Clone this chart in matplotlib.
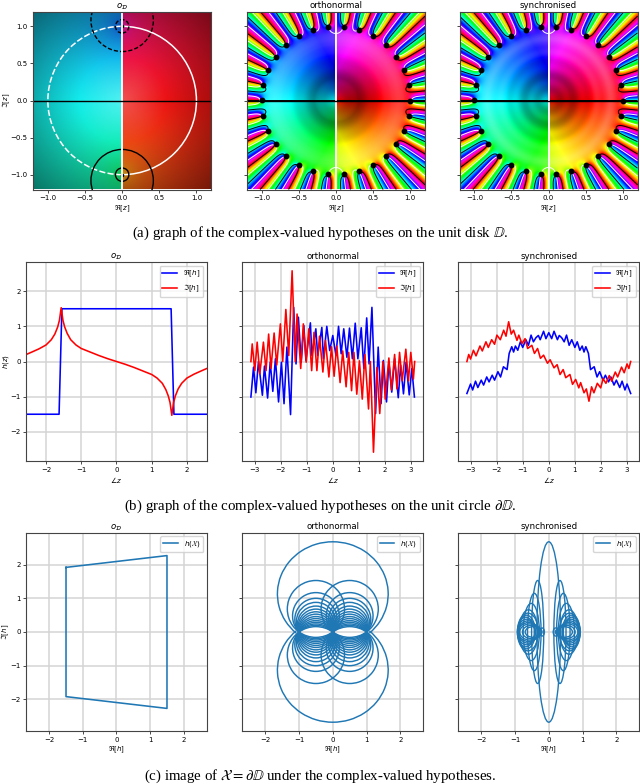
import numpy as np
import matplotlib
matplotlib.use("Agg")
import matplotlib.pyplot as plt
from matplotlib.colors import hsv_to_rgb
from matplotlib.patches import Arc, Ellipse, Circle

# ---------- values ----------
titles = [r"$o_{\mathcal{D}}$", "orthonormal", "synchronised"]
captions = [
    r"(a) graph of the complex-valued hypotheses on the unit disk $\mathbb{D}$.",
    r"(b) graph of the complex-valued hypotheses on the unit circle $\partial\mathbb{D}$.",
    r"(c) image of $\mathcal{X}=\partial\mathbb{D}$ under the complex-valued hypotheses.",
]
# black dots of the two right-hand disk panels (degrees, radius about 1)
dot_angles = [0, 12, 24, 36, 48, 60, 72, 84, 96, 108, 120, 132, 144, 156, 168, 180,
              192, 204, 216, 228, 240, 252, 264, 276, 288, 300, 312, 324, 336, 348]

# (b) o_D
od_re_x = [-2.56, -1.63, -1.55, 1.55, 1.63, 2.56]
od_re_y = [-1.5, -1.5, 1.5, 1.5, -1.5, -1.5]
od_im_x = [-2.56, -2.4, -2.2, -2.0, -1.85, -1.75, -1.67, -1.62, -1.57, -1.52, -1.47, -1.4, -1.3, -1.15, -1.0,
           -0.75, -0.5, -0.25, 0, 0.25, 0.5, 0.75, 1.0, 1.15, 1.3, 1.4, 1.47, 1.52, 1.57, 1.62, 1.67, 1.75,
           1.85, 2.0, 2.2, 2.4, 2.56]
od_im_y = [0.2, 0.27, 0.36, 0.47, 0.62, 0.78, 0.98, 1.17, 1.53, 1.17, 0.98, 0.8, 0.62, 0.47, 0.37,
           0.27, 0.17, 0.08, 0, -0.08, -0.17, -0.27, -0.37, -0.47, -0.62, -0.8, -0.98, -1.17, -1.53, -1.17,
           -0.98, -0.78, -0.62, -0.47, -0.36, -0.27, -0.2]

# (b) orthonormal
on_re_x = [-3.14, -3.04, -2.95, -2.85, -2.70, -2.62, -2.50, -2.40, -2.30, -2.20, -2.08, -1.97, -1.87, -1.76, -1.62,
           -1.50, -1.41, -1.32, -1.21, -1.11, -1.03, -0.86, -0.80, -0.65, -0.58, -0.42, -0.36, -0.23, -0.12, 0.0,
           0.12, 0.22, 0.32, 0.42, 0.54, 0.64, 0.75, 0.86, 0.96, 1.09, 1.19, 1.30, 1.39, 1.50, 1.64, 1.74, 1.85,
           1.94, 2.06, 2.15, 2.26, 2.37, 2.51, 2.60, 2.71, 2.81, 2.93, 3.03, 3.13]
on_re_y = [-1.01, -0.16, -0.89, 0.0, -0.96, -0.13, -1.04, -0.02, -0.85, 0.08, -1.15, -0.02, -1.2, 0.41, -1.51,
           1.54, -0.07, 1.26, -0.02, 1.02, 0.03, 1.1, 0.17, 0.93, 0.17, 0.97, 0.08, 1.0, 0.31, 0.74,
           0.17, 1.0, 0.22, 0.93, 0.12, 0.95, 0.08, 1.09, 0.08, 0.96, -0.2, 1.24, -0.07, 1.54, -1.48, 0.41, -1.2,
           0.03, -1.15, -0.02, -0.87, 0.08, -1.03, -0.11, -0.92, -0.02, -0.95, -0.2, -1.01]
on_im_x = [-3.14, -3.09, -2.99, -2.90, -2.80, -2.66, -2.56, -2.46, -2.37, -2.25, -2.15, -2.01, -1.92, -1.80, -1.69,
           -1.56, -1.44, -1.37, -1.23, -1.13, -1.02, -0.92, -0.81, -0.72, -0.61, -0.51, -0.38, -0.28, -0.15, -0.05,
           0.05, 0.15, 0.28, 0.38, 0.51, 0.61, 0.72, 0.81, 0.92, 1.02, 1.13, 1.23, 1.37, 1.44, 1.56, 1.69, 1.80,
           1.92, 2.01, 2.15, 2.25, 2.37, 2.46, 2.56, 2.66, 2.80, 2.90, 2.99, 3.09, 3.14]
on_im_y = [0.0, 0.5, -0.26, 0.55, -0.35, 0.55, -0.26, 0.78, -0.2, 0.81, -0.1, 1.07, 0.0, 1.48, 0.17,
           2.58, 0.0, 1.35, -0.2, 1.07, -0.02, 0.93, -0.26, 0.83, -0.26, 0.72, -0.3, 0.6, -0.44, 0.42,
           -0.42, 0.44, -0.6, 0.3, -0.72, 0.26, -0.83, 0.26, -0.93, 0.02, -1.07, 0.2, -1.35, 0.0, -2.58, -0.17, -1.48,
           0.0, -1.07, 0.1, -0.81, 0.2, -0.78, 0.26, -0.55, 0.35, -0.55, 0.26, -0.5, 0.0]

# (b) synchronised
sy_re_x = [-3.14, -3.0, -2.92, -2.81, -2.72, -2.59, -2.5, -2.38, -2.29, -2.17, -2.08, -1.95, -1.85, -1.74, -1.6,
           -1.52, -1.42, -1.35, -1.28, -1.19, -1.09, -1.0, -0.88, -0.78, -0.68, -0.59, -0.49, -0.4, -0.33, -0.2, -0.11,
           0.0, 0.11, 0.2, 0.33, 0.4, 0.49, 0.59, 0.68, 0.78, 0.88, 1.0, 1.09, 1.19, 1.28, 1.35, 1.42, 1.52,
           1.6, 1.74, 1.85, 1.95, 2.08, 2.17, 2.29, 2.38, 2.5, 2.59, 2.72, 2.81, 2.92, 3.0, 3.14]
sy_re_y = [-0.91, -0.64, -0.81, -0.56, -0.74, -0.53, -0.67, -0.44, -0.58, -0.39, -0.53, -0.29, -0.44, -0.15, -0.23,
           0.23, 0.42, 0.27, 0.44, 0.32, 0.56, 0.4, 0.62, 0.46, 0.75, 0.56, 0.68, 0.74, 0.62, 0.86, 0.65,
           0.82, 0.65, 0.86, 0.62, 0.74, 0.68, 0.56, 0.75, 0.46, 0.62, 0.4, 0.56, 0.32, 0.44, 0.27, 0.42, 0.23,
           -0.23, -0.15, -0.44, -0.29, -0.53, -0.39, -0.58, -0.44, -0.67, -0.53, -0.74, -0.56, -0.81, -0.64, -0.91]
sy_im_x = [-3.14, -3.07, -3.0, -2.89, -2.79, -2.64, -2.55, -2.41, -2.32, -2.19, -2.08, -1.99, -1.86, -1.73, -1.64,
           -1.54, -1.44, -1.35, -1.22, -1.15, -1.03, -0.91, -0.81, -0.65, -0.55, -0.43, -0.32, -0.2, -0.05, 0.0,
           0.05, 0.2, 0.32, 0.43, 0.55, 0.65, 0.81, 0.91, 1.03, 1.15, 1.22, 1.35, 1.44, 1.54, 1.64, 1.73, 1.86,
           1.99, 2.08, 2.19, 2.32, 2.41, 2.55, 2.64, 2.79, 2.89, 3.0, 3.07, 3.14]
sy_im_y = [0.0, 0.2, 0.07, 0.32, 0.16, 0.44, 0.3, 0.56, 0.4, 0.62, 0.49, 0.75, 0.62, 0.89, 0.72,
           1.13, 0.78, 0.89, 0.6, 0.75, 0.51, 0.65, 0.37, 0.46, 0.23, 0.37, 0.09, 0.18, -0.05, 0.0,
           0.05, -0.18, -0.09, -0.37, -0.23, -0.46, -0.37, -0.65, -0.51, -0.75, -0.6, -0.89, -0.78, -1.13, -0.72, -0.89, -0.62,
           -0.75, -0.49, -0.62, -0.4, -0.56, -0.3, -0.44, -0.16, -0.32, -0.07, -0.2, 0.0]

# (c) o_D outline
im_od_re = [-1.5, 1.5, 1.5, -1.5, -1.5]
im_od_im = [1.92, 2.27, -2.27, -1.92, 1.92]
# (c) orthonormal: top heights of the loops on the chord -1..0 / 0..1
on_loop_tops = [1.53, 1.17, 1.0, 0.88, 0.77, 0.68, 0.6, 0.53, 0.46, 0.4, 0.34, 0.29, 0.24, 0.2, 0.16]
on_big_centre_y = 1.13
on_big_w = 3.28
on_big_h = 3.10
# (c) synchronised: loops (centre |x|, half-width, half-height)
sy_loop_cx = [0.33, 0.43, 0.52, 0.6, 0.62, 0.66, 0.68, 0.66, 0.62, 0.6, 0.56, 0.5, 0.45, 0.2]
sy_loop_hw = [0.18, 0.2, 0.24, 0.27, 0.31, 0.26, 0.25, 0.26, 0.28, 0.3, 0.3, 0.28, 0.25, 0.07]
sy_loop_hh = [1.53, 1.15, 0.85, 0.66, 0.56, 0.5, 0.44, 0.38, 0.33, 0.28, 0.24, 0.2, 0.16, 0.12]
sy_big_hw = 0.35
sy_big_hh = 2.68

# ---------- helpers ----------
W, H = 640, 784
row_y = [(11.5, 189.5), (262, 461), (532.7, 731.3)]
col_x1 = [(33, 211.3), (246.7, 425), (459.5, 637.5)]
col_x23 = [(26.3, 206.7), (242.3, 423.3), (458.3, 639.3)]
GRID = dict(color="#d4d4d4", lw=1.1)
FS = 5.0
plt.rcParams.update({"font.size": FS, "axes.linewidth": 0.8, "axes.edgecolor": "#444444",
                     "xtick.major.size": 2, "ytick.major.size": 2, "xtick.major.width": 0.5, "ytick.major.width": 0.5,
                     "xtick.major.pad": 2, "ytick.major.pad": 2, "axes.titlesize": 6.2, "axes.titlepad": 2.5,
                     "axes.labelsize": 5.0, "axes.labelpad": 1.5, "legend.fontsize": 5.2})


def make_ax(fig, xr, yr):
    return fig.add_axes([xr[0] / W, 1 - yr[1] / H, (xr[1] - xr[0]) / W, (yr[1] - yr[0]) / H])


def ylabel_at(ax, label, xr, x_px=11.5):
    ax.set_ylabel(label)
    ax.yaxis.set_label_coords((x_px - xr[0]) / (xr[1] - xr[0]), 0.5)


def hls_image(hue, light, sat=1.0):
    light = np.clip(light, 0.02, 0.98)
    v = light + sat * np.minimum(light, 1 - light)
    s = 2 * (1 - light / v)
    return hsv_to_rgb(np.dstack([np.mod(hue, 1), s, v]))


# Illustrative colour field for the disk panels (an approximation of the phase
# portraits, not values read off the picture).
g = np.linspace(-1.2, 1.2, 260)
X, Y = np.meshgrid(g, g)
Z = X + 1j * Y
R = np.abs(Z)

h_od = 1.5 * np.sign(X) + 1j * np.clip(0.3 * np.log((np.abs(Z - 1j) + 1e-3) / (np.abs(Z + 1j) + 1e-3)), -1.5, 1.5)
L_od = 0.63 - 0.225 * R
img_od = hls_image(np.angle(h_od) / (2 * np.pi), L_od, 0.85)

field = 0.85 * np.conj(Z) - 0.5 * Z ** 29
inner = np.clip((1.0 - R) / 0.1, 0, 1)
hue_field = field + 0.2 * np.sign(X) * inner


def disk_light(centre, depth, ripple):
    ring = np.clip(R / 0.3, 0, 1)
    low = centre + (depth - centre) * ring
    rise = np.clip((R - 0.3) / 0.45, 0, 1)
    base = low + (0.6 - low) * rise
    base = base + ripple * np.sin(R * 32)
    return inner * base + (1 - inner) * 0.5


img_on = hls_image(np.angle(hue_field) / (2 * np.pi), disk_light(0.42, 0.28, 0.012))
img_sy = hls_image(np.angle(hue_field) / (2 * np.pi), disk_light(0.38, 0.34, 0.03))

fig = plt.figure(figsize=(W / 100, H / 100), dpi=100)

# ---------- row 1 ----------
for j, img in enumerate([img_od, img_on, img_sy]):
    ax = make_ax(fig, col_x1[j], row_y[0])
    ax.imshow(img, origin="lower", extent=(-1.2, 1.2, -1.2, 1.2), interpolation="bilinear", aspect="auto")
    ax.set_title(titles[j])
    ax.set_xlabel(r"$\Re[z]$")
    ax.set_xticks([-1, -0.5, 0, 0.5, 1])
    ax.set_yticks([-1, -0.5, 0, 0.5, 1])
    if j == 0:
        ylabel_at(ax, r"$\Im[z]$", col_x1[0])
        ax.add_patch(Arc((0, 0), 2, 2, theta1=-90, theta2=90, color="w", lw=1.1))
        ax.add_patch(Arc((0, 0), 2, 2, theta1=90, theta2=270, color="w", lw=1.1, ls=(0, (4, 1.5))))
        for cy, ls in [(-1.0, "-"), (1.0, (0, (3, 1.5)))]:
            ax.add_patch(Circle((0, cy), 0.09, fill=False, ec="k", lw=1.0, ls=ls))
            ax.add_patch(Circle((0, cy * 1.08), 0.42, fill=False, ec="k", lw=1.0, ls=ls))
            ax.plot([0], [cy], "o", color="k", ms=1.6)
    else:
        ax.set_yticklabels([])
        ax.contour(X, Y, field.imag, levels=[0], colors="k", linewidths=0.7)
        ax.contour(X, Y, field.real, levels=[0], colors="w", linewidths=0.7)
        ang = np.deg2rad(dot_angles)
        ax.plot(np.cos(ang), np.sin(ang), "o", color="k", ms=3.2, ls="none")
    ax.axvline(0, color="w", lw=1.3)
    ax.axhline(0, color="k", lw=1.0)
    ax.set_xlim(-1.2, 1.2)
    ax.set_ylim(-1.2, 1.2)

# ---------- row 2 ----------
series_b = [
    (od_re_x, od_re_y, od_im_x, od_im_y, 2.56),
    (on_re_x, on_re_y, on_im_x, on_im_y, 3.47),
    (sy_re_x, sy_re_y, sy_im_x, sy_im_y, 3.47),
]
for j, (rx, ry, ix, iy, xl) in enumerate(series_b):
    ax = make_ax(fig, col_x23[j], row_y[1])
    ax.grid(True, **GRID)
    ax.set_axisbelow(True)
    ax.plot(rx, ry, color="b", lw=1.15, label=r"$\Re[h]$")
    ax.plot(ix, iy, color="r", lw=1.15, label=r"$\Im[h]$")
    ax.set_xlim(-xl, xl)
    ax.set_ylim(-2.83, 2.83)
    ax.set_title(titles[j])
    ax.set_xlabel(r"$\angle z$")
    ax.set_xticks([-2, -1, 0, 1, 2] if j == 0 else [-3, -2, -1, 0, 1, 2, 3])
    ax.set_yticks([-2, -1, 0, 1, 2])
    if j == 0:
        ylabel_at(ax, r"$h(z)$", col_x23[0])
    else:
        ax.set_yticklabels([])
    ax.legend(loc="upper right")

# ---------- row 3 ----------
BLUE = "tab:blue"
for j in range(3):
    ax = make_ax(fig, col_x23[j], row_y[2])
    ax.grid(True, **GRID)
    ax.set_axisbelow(True)
    ax.plot([], [], color=BLUE, lw=1.15, label=r"$h(\mathcal{X})$")
    if j == 0:
        ax.plot(im_od_re, im_od_im, color=BLUE, lw=1.15)
    elif j == 1:
        for sgn in (1, -1):
            a1, a2 = (-47, 227) if sgn > 0 else (133, 407)
            ax.add_patch(Arc((0, sgn * on_big_centre_y), on_big_w, on_big_h, theta1=a1, theta2=a2, color=BLUE, lw=1.05))
            for t in on_loop_tops:
                c = (t ** 2 - 0.25) / (2 * t)
                r = t - c
                a = np.rad2deg(np.arcsin(np.clip(-c / r, -1, 1)))
                for sx in (-0.5, 0.5):
                    if sgn > 0:
                        ax.add_patch(Arc((sx, c), 2 * r, 2 * r, theta1=a, theta2=180 - a, color=BLUE, lw=1.05))
                    else:
                        ax.add_patch(Arc((sx, -c), 2 * r, 2 * r, theta1=180 + a, theta2=360 - a, color=BLUE, lw=1.05))
    else:
        ax.add_patch(Ellipse((0, 0), 2 * sy_big_hw, 2 * sy_big_hh, fill=False, ec=BLUE, lw=1.0))
        for cx, hw, hh in zip(sy_loop_cx, sy_loop_hw, sy_loop_hh):
            for s in (-1, 1):
                ax.add_patch(Ellipse((s * cx, 0), 2 * hw, 2 * hh, fill=False, ec=BLUE, lw=1.0))
    ax.set_xlim(-2.68, 2.68)
    ax.set_ylim(-2.95, 2.95)
    ax.set_title(titles[j])
    ax.set_xlabel(r"$\Re[h]$")
    ax.set_xticks([-2, -1, 0, 1, 2])
    ax.set_yticks([-2, -1, 0, 1, 2])
    if j == 0:
        ylabel_at(ax, r"$\Im[h]$", col_x23[0])
    else:
        ax.set_yticklabels([])
    ax.legend(loc="upper right")

# ---------- captions ----------
for cap, yp in zip(captions, [233, 506, 776]):
    fig.text(0.5, 1 - yp / H, cap, ha="center", va="center", family="Liberation Serif",
             fontsize=10.7, math_fontfamily="stix")

fig.savefig("out.png", dpi=100)
